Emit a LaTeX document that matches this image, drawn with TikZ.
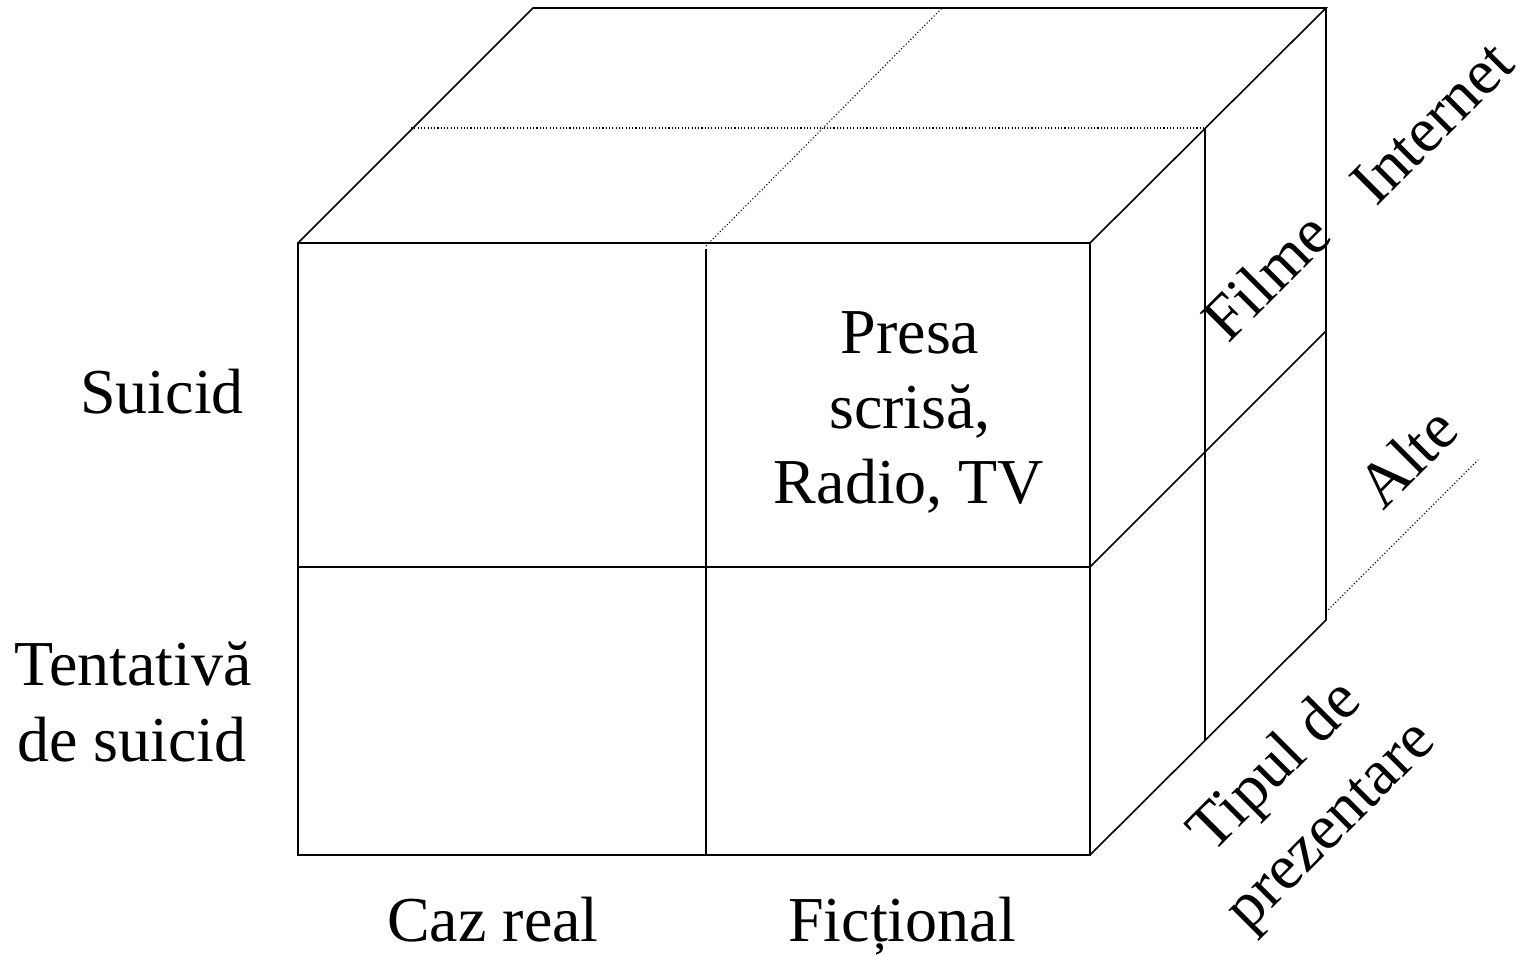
\documentclass[tikz,border=0pt]{standalone}
\usepackage{fontspec}
\setmainfont{Liberation Serif}
\begin{document}
\begin{tikzpicture}[x=0.5pt,y=-0.5pt,
  edge/.style={line width=0.8pt,line join=miter},
  dotline/.style={line width=0.55pt,dash pattern=on 0.55pt off 1.1pt},
  lbl/.style={inner sep=0pt,font=\fontsize{32}{37.5}\selectfont},
  rlbl/.style={lbl,rotate=45,anchor=center}]
\useasboundingbox (0,0) rectangle (1527,954);
% front face corners
\coordinate (A) at (298,243);
\coordinate (B) at (1090,243);
\coordinate (C) at (1090,855);
\coordinate (D) at (298,855);
% back corners
\coordinate (E) at (533,8);
\coordinate (F) at (1326,8);
\coordinate (G) at (1326,620);
% division points
\coordinate (MT) at (706,249);
\coordinate (MTd) at (706,246);
\coordinate (MB) at (706,855);
\coordinate (HL) at (298,567);
\coordinate (HR) at (1090,567);
\coordinate (HB) at (1326,331);
\coordinate (VT) at (1205,128);
\coordinate (VB) at (1205,740);
\coordinate (TL) at (411,128);
\coordinate (TM) at (942,8);
\coordinate (X1) at (1326,612);
\coordinate (X2) at (1478,460);
% outline
\draw[edge] (A) -- (B) -- (C) -- (D) -- cycle;
\draw[edge] (A) -- (E) -- (F) -- (B);
\draw[edge] (F) -- (G) -- (C);
% divisions
\draw[edge] (MT) -- (MB);
\draw[edge] (HL) -- (HR) -- (HB);
\draw[edge] (VT) -- (VB);
\draw[dotline] (TL) -- (VT);
\draw[dotline] (MTd) -- (TM);
\draw[dotline] (X1) -- (X2);
% labels
\node[lbl,anchor=base] (suicid) at (162,413) {Suicid};
\node[lbl,anchor=base] (tent1) at (133,685) {Tentativă};
\node[lbl,anchor=base] (tent2) at (132,761) {de suicid};
\node[lbl,anchor=base] (presa1) at (910,353) {Presa};
\node[lbl,anchor=base] (presa2) at (910,428) {scrisă,};
\node[lbl,anchor=base] (presa3) at (909,503) {Radio, TV};
\node[lbl,anchor=base] (caz) at (493,941) {Caz real};
\node[lbl,anchor=base] (fict) at (902,941) {Ficțional};
\node[rlbl] (filme) at (1266,276) {Filme};
\node[rlbl] (internet) at (1432,123) {Internet};
\node[rlbl] (alte) at (1407,457) {Alte};
\node[rlbl] (tip1) at (1277,768) {Tipul de};
\node[rlbl] (tip2) at (1335,830) {prezentare};
\end{tikzpicture}
\end{document}
